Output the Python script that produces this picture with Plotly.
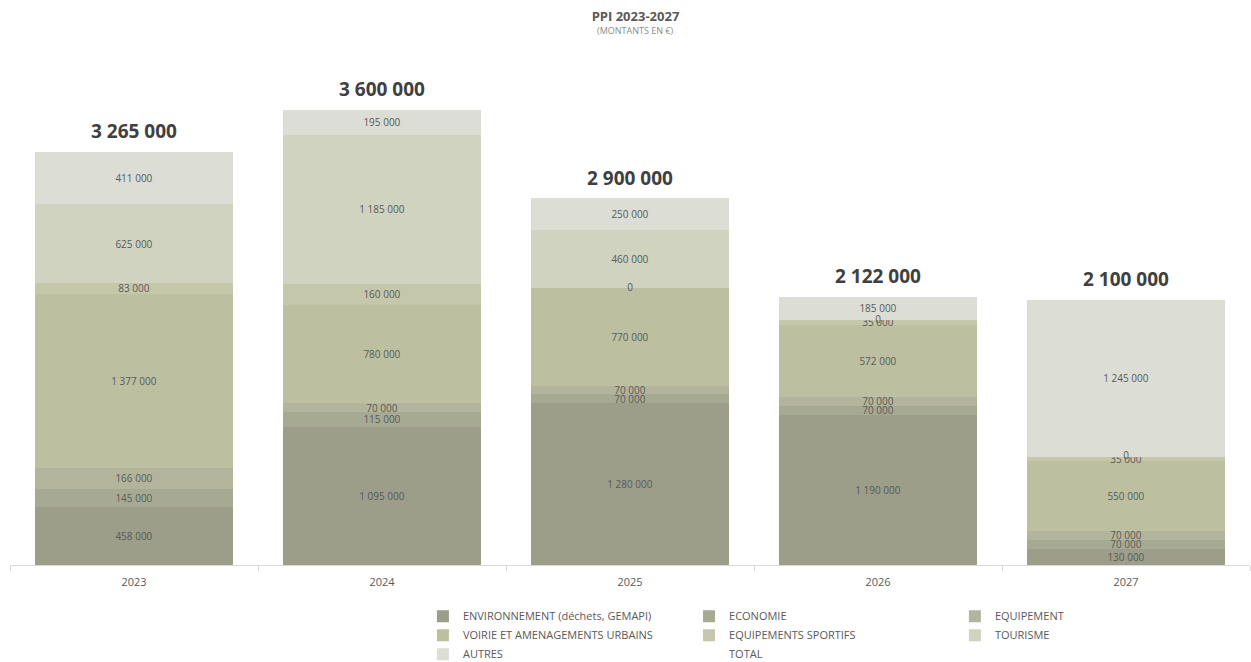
import plotly.graph_objects as go

years = ["2023", "2024", "2025", "2026", "2027"]
environnement = [458000, 1095000, 1280000, 1190000, 130000]
economie = [145000, 115000, 70000, 70000, 70000]
equipement = [166000, 70000, 70000, 70000, 70000]
voirie = [1377000, 780000, 770000, 572000, 550000]
sportifs = [83000, 160000, 0, 35000, 35000]
tourisme = [625000, 1185000, 460000, 0, 0]
autres = [411000, 195000, 250000, 185000, 1245000]
totals = [3265000, 3600000, 2900000, 2122000, 2100000]

series = [
    ("ENVIRONNEMENT (déchets, GEMAPI)", environnement, "#9c9e89", "legend"),
    ("ECONOMIE", economie, "#a7aa93", "legend2"),
    ("EQUIPEMENT", equipement, "#b2b59b", "legend3"),
    ("VOIRIE ET AMENAGEMENTS URBAINS", voirie, "#bcc0a1", "legend"),
    ("EQUIPEMENTS SPORTIFS", sportifs, "#c4c7aa", "legend2"),
    ("TOURISME", tourisme, "#d0d3bf", "legend3"),
    ("AUTRES", autres, "#dcddd5", "legend"),
]

FONT = "Open Sans"
LABEL_FONT = dict(size=10, color="#595959", family=FONT)
fig = go.Figure()
for i, (name, vals, col, lg) in enumerate(series):
    fig.add_trace(go.Bar(
        x=years, y=vals, name=name, marker=dict(color=col, line=dict(width=0)),
        texttemplate="%{y:,.0f}", textposition="inside", insidetextanchor="middle",
        textangle=0, constraintext="none", textfont=LABEL_FONT,
        legend=lg, legendrank=i,
    ))

# labels for zero-valued segments (plotly does not label empty bars)
zx, zy = [], []
for j, yr in enumerate(years):
    base = 0
    for name, vals, col, lg in series:
        if vals[j] == 0:
            zx.append(yr)
            zy.append(base)
        base += vals[j]
fig.add_trace(go.Scatter(
    x=zx, y=zy, mode="text", text=["0"] * len(zx), textposition="middle center",
    textfont=LABEL_FONT, showlegend=False, hoverinfo="skip",
))

fig.add_trace(go.Scatter(
    x=years, y=totals, name="TOTAL", mode="markers+text",
    marker=dict(size=13, color="rgba(0,0,0,0)"),
    text=[f"{v:,}".replace(",", " ") for v in totals],
    textposition="top center",
    textfont=dict(size=19, color="#404040", family=FONT, weight="bold"),
    legend="legend2", legendrank=10, cliponaxis=False,
))

legend_common = dict(
    orientation="v", yanchor="top", y=-0.074, xanchor="left",
    font=dict(size=11, color="#595959", family=FONT),
    bgcolor="rgba(0,0,0,0)", tracegroupgap=0, traceorder="normal",
)

fig.update_layout(
    width=1251, height=662,
    margin=dict(l=10, r=1, t=70, b=97, autoexpand=False),
    paper_bgcolor="white", plot_bgcolor="white",
    barmode="stack", bargap=0.2,
    separators=", ",
    uniformtext=dict(minsize=10, mode="show"),
    title=dict(
        text="<b>PPI 2023-2027</b>",
        x=0.508, xanchor="center", yref="container", y=0.975, yanchor="middle",
        font=dict(size=13, color="#595959", family=FONT),
    ),
    annotations=[dict(
        text="(MONTANTS EN €)", xref="paper", yref="paper", x=0.504, y=1.0808,
        xanchor="center", yanchor="middle", showarrow=False,
        font=dict(size=9, color="#8c8c8c", family=FONT),
    )],
    xaxis=dict(
        type="category", tickson="boundaries", ticks="outside", ticklen=5,
        tickcolor="#d9d9d9", showline=True, linecolor="#d9d9d9", linewidth=1,
        ticklabelstandoff=7,
        showgrid=False, tickfont=dict(size=11, color="#595959", family=FONT),
    ),
    yaxis=dict(range=[0, 3916000], visible=False, showgrid=False, zeroline=False),
    legend=dict(legend_common, x=0.333),
    legend2=dict(legend_common, x=0.5476),
    legend3=dict(legend_common, x=0.762),
    showlegend=True,
)

fig.write_html("out.html")
